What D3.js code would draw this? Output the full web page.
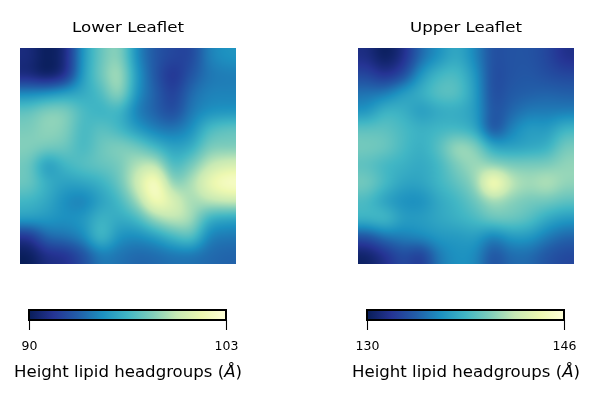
<!DOCTYPE html>
<html><head><meta charset="utf-8">
<script src="https://cdn.jsdelivr.net/npm/d3@7"></script>
<style>html,body{margin:0;background:#fff;}#c{position:relative;width:597px;height:402px;overflow:hidden}
canvas,svg{position:absolute;left:0;top:0}text{font-family:"DejaVu Sans";fill:#000}</style></head>
<body><div id="c"></div>
<script>
const titles = ["Lower Leaflet", "Upper Leaflet"];
const axisLabel = "Height lipid headgroups (";
const lowerDomain = [90, 103];
const upperDomain = [130, 146];
const cmapColors = ["#081d58","#253494","#225ea8","#1d91c0","#41b6c4","#7fcdbb","#c7e9b4","#edf8b1","#ffffd9"];
const lowerHeights = [
[91.0,90.0,90.8,95.2,97.6,98.6,94.6,92.9,92.3,92.2,94.4,95.0],
[90.8,90.0,91.0,95.4,97.8,99.4,95.2,92.9,91.4,92.9,94.0,94.2],
[94.6,94.9,95.5,95.9,96.8,99.0,94.9,93.3,91.9,93.7,94.4,94.4],
[97.4,98.4,98.3,96.8,96.2,96.5,94.2,93.3,92.3,94.1,94.8,94.9],
[98.0,98.6,98.3,96.5,97.3,96.5,95.2,94.2,93.9,94.7,96.8,97.4],
[98.3,98.0,97.7,96.5,97.7,98.3,97.8,96.5,95.5,95.9,98.0,98.0],
[97.7,95.0,96.5,97.2,97.5,97.8,99.4,99.8,96.5,97.8,99.7,100.4],
[97.7,96.2,95.5,95.7,96.2,97.5,100.2,103.0,98.1,99.1,101.4,102.6],
[96.5,95.9,94.7,94.2,95.5,96.5,98.8,102.2,100.8,98.8,99.6,100.0],
[95.5,95.2,94.9,95.2,96.5,95.9,96.5,98.7,99.8,99.2,96.0,95.5],
[91.4,93.6,93.9,94.6,97.0,94.9,94.6,95.2,96.5,97.4,94.3,94.0],
[90.0,91.2,91.4,92.6,94.2,93.9,93.5,93.6,93.9,93.9,93.6,93.4]];
const upperHeights = [
[131.4,130.0,131.4,134.5,136.1,137.4,135.6,133.2,133.5,133.5,132.9,131.6],
[132.9,131.7,132.9,136.4,138.2,138.5,136.4,133.0,133.5,133.7,133.2,132.9],
[134.8,135.1,136.7,137.7,139.0,139.0,136.7,133.0,133.8,134.0,134.2,134.0],
[136.1,138.0,137.7,136.4,137.2,137.4,136.7,133.3,134.3,135.1,135.1,135.1],
[139.0,139.0,138.3,137.7,138.0,138.0,137.2,133.0,135.4,136.7,136.4,138.0],
[139.8,139.5,138.3,137.5,138.8,141.2,140.4,137.0,136.7,137.0,137.5,139.8],
[138.8,138.0,137.7,137.2,138.0,139.9,141.0,140.4,139.9,139.9,139.9,140.6],
[139.8,138.3,137.0,137.0,138.0,139.0,140.5,146.0,142.0,141.0,141.8,140.6],
[138.3,136.7,135.9,135.8,137.2,138.0,139.3,141.0,140.2,139.6,139.6,139.0],
[138.0,138.5,136.7,136.7,137.2,137.7,138.3,139.5,139.5,138.8,137.2,136.4],
[133.3,134.8,135.3,135.8,136.4,136.4,136.7,135.1,136.4,136.4,135.1,134.2],
[130.4,131.7,133.2,132.2,135.1,136.1,135.8,133.3,134.5,134.5,133.5,132.9]];

const W = 597, H = 402;
const canvas = d3.select("#c").append("canvas").attr("width", W).attr("height", H).node();
const ctx = canvas.getContext("2d");
const svg = d3.select("#c").append("svg").attr("width", W).attr("height", H);
const B = 0.7, C = 0.15;
const kern = v => {
  const a = Math.abs(v);
  if (a < 1) return ((12-9*B-6*C)*a*a*a + (-18+12*B+6*C)*a*a + (6-2*B))/6;
  if (a < 2) return ((-B-6*C)*a*a*a + (6*B+30*C)*a*a + (-12*B-48*C)*a + (8*B+24*C))/6;
  return 0;
};

function panel(i, grid, domain, left, barLeft) {
  const size = 216, top = 48;
  const n = grid.length;
  const dStops = cmapColors.map((_, k) => domain[0] + (domain[1]-domain[0])*k/(cmapColors.length-1));
  const color = d3.scaleLinear().domain(dStops).range(cmapColors).clamp(true);
  const pxToCell = d3.scaleLinear().domain([0, size]).range([-0.5, n-0.5]);
  const clampI = v => Math.max(0, Math.min(n-1, v));
  const sample = (x, y) => {
    const ix = Math.floor(x), iy = Math.floor(y);
    let s = 0;
    for (let dy = -1; dy <= 2; dy++) {
      const wy = kern(y-(iy+dy)), r = grid[clampI(iy+dy)];
      for (let dx = -1; dx <= 2; dx++) s += wy*kern(x-(ix+dx))*r[clampI(ix+dx)];
    }
    return s;
  };
  for (let py = 0; py < size; py++) for (let px = 0; px < size; px++) {
    ctx.fillStyle = color(sample(pxToCell(px+0.5), pxToCell(py+0.5)));
    ctx.fillRect(left+px, top+py, 1, 1);
  }
  svg.append("text").attr("x", left+size/2).attr("y", 32).attr("text-anchor","middle")
    .attr("font-size", 14.6).attr("textLength", 112).attr("lengthAdjust","spacingAndGlyphs").text(titles[i]);

  const barW = 197, barTop = 310, barH = 10;
  const x = d3.scaleLinear().domain(domain).range([barLeft, barLeft+barW]);
  const id = "grad"+i;
  const grad = svg.append("defs").append("linearGradient").attr("id", id);
  grad.selectAll("stop").data(dStops).join("stop")
    .attr("offset", d => (x(d)-barLeft)/barW).attr("stop-color", d => color(d));
  svg.append("rect").attr("x", barLeft).attr("y", barTop).attr("width", barW).attr("height", barH)
    .attr("fill", `url(#${id})`).attr("stroke","#000").attr("stroke-width",2);
  const ax = svg.append("g").attr("transform", `translate(0,${barTop+barH})`)
    .call(d3.axisBottom(x).tickValues(domain).tickFormat(d3.format("d")).tickSizeOuter(0).tickSizeInner(10).tickPadding(11));
  ax.select(".domain").remove();
  ax.selectAll("line").attr("stroke","#000").attr("stroke-width",1.1);
  ax.selectAll("text").attr("font-size", 12.5).attr("font-family","DejaVu Sans").attr("fill","#000");
  const lab = svg.append("text").attr("x", barLeft+barW/2+0.5).attr("y", 377).attr("text-anchor","middle")
    .attr("font-size", 15.3).attr("textLength", 228).attr("lengthAdjust","spacingAndGlyphs");
  lab.append("tspan").text(axisLabel);
  lab.append("tspan").attr("font-style","italic").text("Å");
  lab.append("tspan").text(")");
}
panel(0, lowerHeights, lowerDomain, 20, 29);
panel(1, upperHeights, upperDomain, 358, 367);
</script></body></html>
